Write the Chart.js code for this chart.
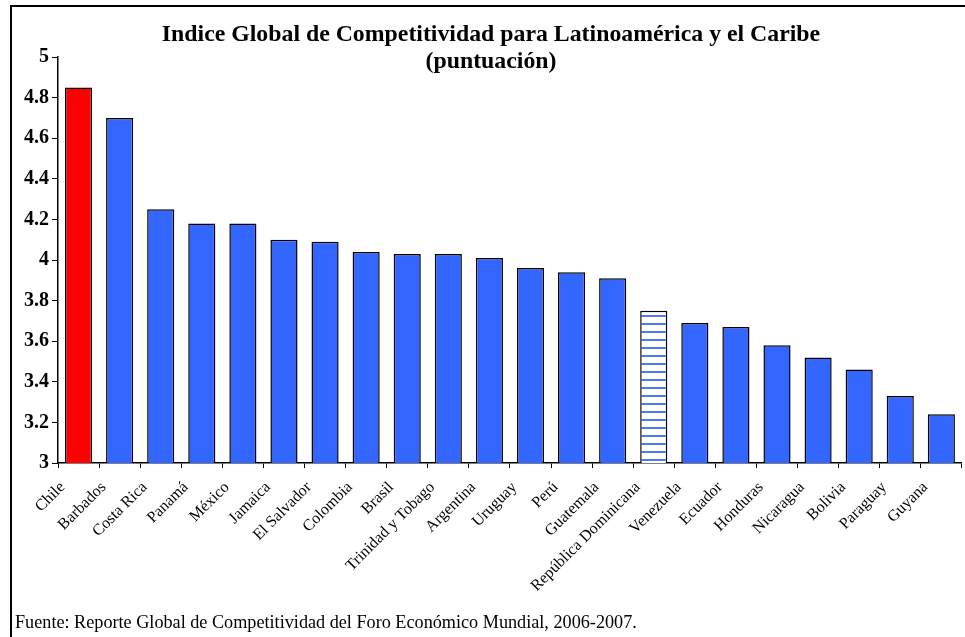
<!DOCTYPE html>
<html>
<head>
<meta charset="utf-8">
<script src="https://cdn.jsdelivr.net/npm/chart.js@4"></script>
<style>
  html, body { margin:0; padding:0; width:965px; height:637px; overflow:hidden; background:#fff; }
  #frame { position:absolute; left:10px; top:5px; width:1000px; height:700px; border:2px solid #000; box-sizing:border-box; }
  #chartBox { position:absolute; left:0; top:0; width:965px; height:637px; }
  #title { position:absolute; left:0; top:20px; width:982px; text-align:center; font-family:'Liberation Serif', serif; font-weight:bold; font-size:23.8px; line-height:27px; color:#000; }
  #source { position:absolute; left:15px; top:611px; font-family:'Liberation Serif', serif; font-size:18.2px; line-height:22px; color:#000; white-space:nowrap; }
</style>
</head>
<body>
<div id="frame"></div>
<div id="chartBox"><canvas id="c" width="965" height="637"></canvas></div>
<div id="title">Indice Global de Competitividad para Latinoamérica y el Caribe<br>(puntuación)</div>
<div id="source">Fuente: Reporte Global de Competitividad del Foro Económico Mundial, 2006-2007.</div>
<script>
const categories = ['Chile','Barbados','Costa Rica','Panamá','México','Jamaica','El Salvador','Colombia','Brasil','Trinidad y Tobago','Argentina','Uruguay','Perú','Guatemala','República Dominicana','Venezuela','Ecuador','Honduras','Nicaragua','Bolivia','Paraguay','Guyana'];
const scores = [4.85,4.70,4.25,4.18,4.18,4.10,4.09,4.04,4.03,4.03,4.01,3.96,3.94,3.91,3.75,3.69,3.67,3.58,3.52,3.46,3.33,3.24];
const highlightRed = ['Chile'];
const highlightStriped = ['República Dominicana'];
const yMin = 3, yMax = 5, yStep = 0.2;

// striped pattern
const pc = document.createElement('canvas');
pc.width = 8; pc.height = 8;
const pctx = pc.getContext('2d');
pctx.fillStyle = '#ffffff'; pctx.fillRect(0,0,8,8);
pctx.fillStyle = '#4f78ff'; pctx.fillRect(0,3,8,2);
const ctx = document.getElementById('c').getContext('2d');
const stripe = ctx.createPattern(pc, 'repeat');

const fills = categories.map(c => highlightRed.includes(c) ? '#ff0000' : (highlightStriped.includes(c) ? stripe : '#3366ff'));

new Chart(ctx, {
  type: 'bar',
  data: {
    labels: categories,
    datasets: [{
      data: scores,
      backgroundColor: fills,
      borderColor: '#000',
      borderWidth: 1.5,
      borderSkipped: false,
      barPercentage: 0.66,
      categoryPercentage: 1
    }]
  },
  options: {
    responsive: false,
    animation: false,
    devicePixelRatio: 1,
    layout: { padding: { left: 0, top: 57, right: 3, bottom: 0 } },
    plugins: { legend: { display: false }, tooltip: { enabled: false }, title: { display: false } },
    scales: {
      x: {
        offset: true,
        grid: { offset: true, drawOnChartArea: false, drawTicks: true, tickLength: 5, color: '#000', lineWidth: 1 },
        border: { display: true, color: '#000', width: 1.5 },
        ticks: { minRotation: 45, maxRotation: 45, autoSkip: false, padding: 10, labelOffset: -16, color: '#000', font: { family: 'Liberation Serif', size: 16 } },
        afterFit: s => { s.height = 174; }
      },
      y: {
        min: yMin, max: yMax,
        grid: { drawOnChartArea: false, drawTicks: true, tickLength: 6, color: '#000', lineWidth: 1 },
        border: { display: true, color: '#000', width: 1.5 },
        ticks: { stepSize: yStep, padding: 3, color: '#000', font: { family: 'Liberation Serif', size: 20, weight: 'bold' },
                 callback: v => String(parseFloat(Number(v).toFixed(1))) },
        afterFit: s => { s.width = 58; }
      }
    }
  }
});
</script>
</body>
</html>
